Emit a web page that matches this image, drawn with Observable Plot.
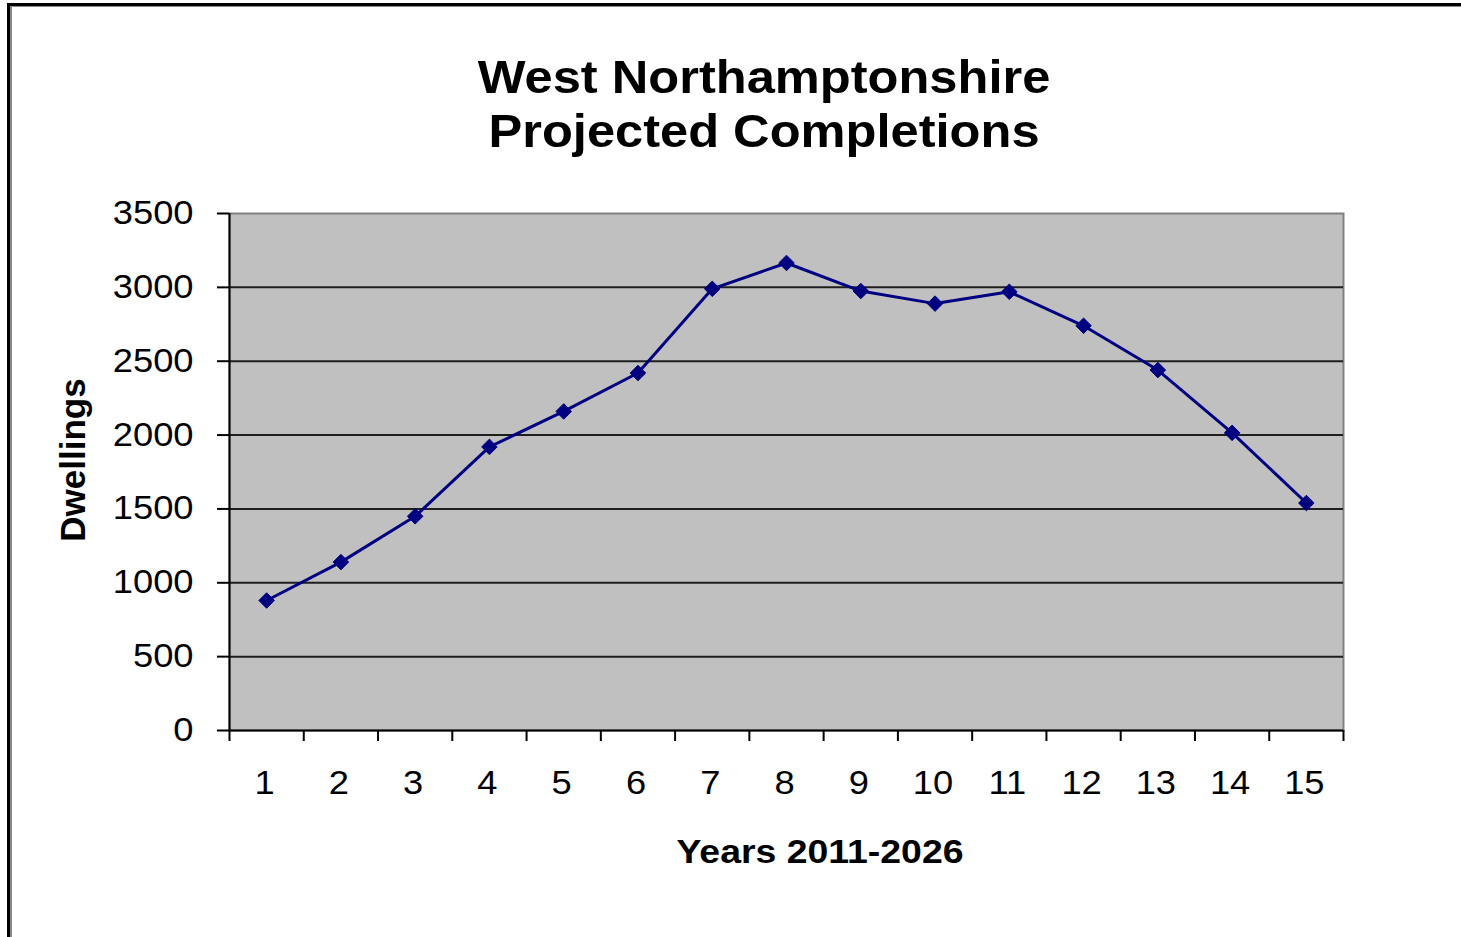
<!DOCTYPE html>
<html>
<head>
<meta charset="utf-8">
<script src="https://cdn.jsdelivr.net/npm/d3@7"></script>
<script src="https://cdn.jsdelivr.net/npm/@observablehq/plot@0.6"></script>
<style>
  html, body { margin: 0; padding: 0; background: #fff; }
  #wrap { position: relative; width: 1461px; height: 937px; overflow: hidden; font-family: "Liberation Sans", Arial, sans-serif; }
  #wrap svg { position: absolute; left: 0; top: 0; }
  .txt { position: absolute; white-space: nowrap; color: #000; font-weight: bold; }
  .b1 { position: absolute; left: 7px; top: 3px; width: 2000px; height: 2000px; border-left: 3px solid #000; border-top: 3px solid #000; }
  .b2 { position: absolute; left: 10px; top: 6px; width: 2000px; height: 2000px; border-left: 2px solid #8a8a8a; border-top: 1px solid #8a8a8a; }
</style>
</head>
<body>
<div id="wrap">
  <div class="b1"></div>
  <div class="b2"></div>
</div>
<script>
// ---- data ----
const years = [1, 2, 3, 4, 5, 6, 7, 8, 9, 10, 11, 12, 13, 14, 15];
const dwellings = [880, 1140, 1450, 1920, 2160, 2420, 2990, 3165, 2975, 2890, 2970, 2740, 2440, 2015, 1540];
const yTicks = [0, 500, 1000, 1500, 2000, 2500, 3000, 3500];
const titleLines = ["West Northamptonshire", "Projected Completions"];
const xTitle = "Years 2011-2026";
const yTitle = "Dwellings";

const data = years.map((y, i) => ({year: y, value: dwellings[i]}));
const boundaries = d3.range(years.length + 1).map(i => i + 0.5);

const chart = Plot.plot({
  width: 1461,
  height: 937,
  marginLeft: 229,
  marginRight: 118,
  marginTop: 213,
  marginBottom: 207,
  style: "font-family: 'Liberation Sans', Arial, sans-serif; font-size: 33px; color: #000; background: transparent; overflow: visible;",
  x: {domain: [0.5, 15.5], label: null},
  y: {domain: [0, 3500], label: null},
  marks: [
    Plot.frame({fill: "#C0C0C0", stroke: "#808080", strokeWidth: 2}),
    Plot.gridY(yTicks.slice(1, -1), {stroke: "#1e1e1e", strokeOpacity: 1, strokeWidth: 2}),
    Plot.axisY(yTicks, {tickSize: 12, tickPadding: 24, stroke: "#000", strokeWidth: 2, tickFormat: d => String(d), label: null}),
    Plot.axisX(boundaries, {tickSize: 11, stroke: "#000", strokeWidth: 2, tickFormat: () => "", label: null}),
    Plot.axisX(years, {tickSize: 0, tickPadding: 40, dx: -2, tickFormat: d => String(d), label: null}),
    Plot.ruleX([0.5], {stroke: "#000", strokeWidth: 2}),
    Plot.ruleY([0], {stroke: "#000", strokeWidth: 2}),
    Plot.line(data, {x: "year", y: "value", stroke: "#000080", strokeWidth: 3}),
    Plot.dot(data, {x: "year", y: "value", symbol: "diamond2", r: 7, fill: "#000080", stroke: "#000080", strokeWidth: 1})
  ]
});

// slight horizontal stretch of tick labels, like the original
chart.querySelectorAll("text").forEach(t => {
  const tr = t.getAttribute("transform") || "";
  t.setAttribute("transform", tr + " scale(1.1,1)");
});

const wrap = document.getElementById("wrap");
wrap.insertBefore(chart, wrap.firstChild);

function addText(str, css) {
  const d = document.createElement("div");
  d.className = "txt";
  d.textContent = str;
  Object.assign(d.style, css);
  wrap.appendChild(d);
}
titleLines.forEach((s, i) => addText(s, {
  left: "764px", top: (50 + i * 54) + "px", fontSize: "46px", lineHeight: "54px",
  transform: "translateX(-50%) scaleX(1.1)"
}));
addText(xTitle, {left: "820px", top: "834px", fontSize: "34px", lineHeight: "34px",
  transform: "translateX(-50%) scaleX(1.1)"});
addText(yTitle, {left: "72px", top: "460px", fontSize: "35px", lineHeight: "35px",
  transform: "translate(-50%, -50%) rotate(-90deg)"});
</script>
</body>
</html>
